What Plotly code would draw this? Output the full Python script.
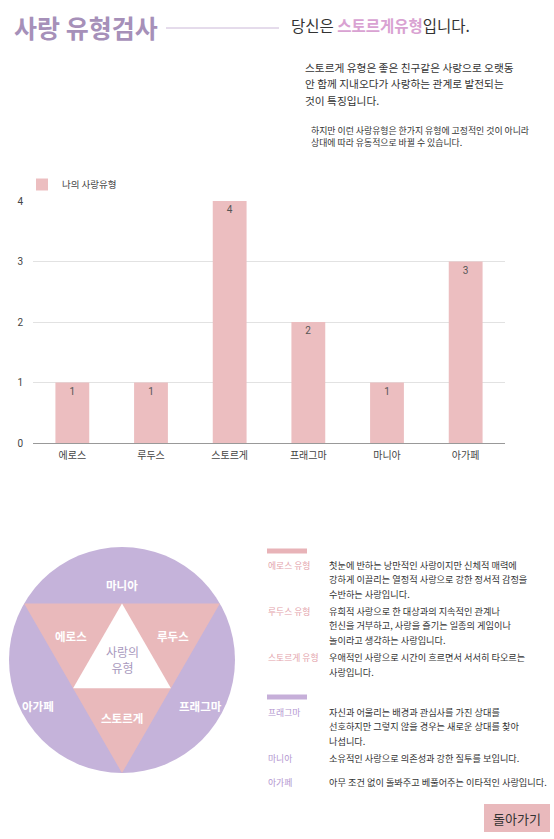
import math
import plotly.graph_objects as go

# ---------------- data ----------------
categories = ["에로스", "루두스", "스토르게", "프래그마", "마니아", "아가페"]
values = [1, 1, 4, 2, 1, 3]
y_ticks = [0, 1, 2, 3, 4]
series_name = "나의 사랑유형"

title_text = "사랑 유형검사"
result_prefix = "당신은 "
result_type = "스토르게유형"
result_suffix = "입니다."
para_lines = ["스토르게 유형은 좋은 친구같은 사랑으로 오랫동",
              "안 함께 지내오다가 사랑하는 관계로 발전되는",
              "것이 특징입니다."]
note_lines = ["하지만 이런 사랑유형은 한가지 유형에 고정적인 것이 아니라",
              "상대에 따라 유동적으로 바뀔 수 있습니다."]

pink_group = [
    ("에로스 유형", ["첫눈에 반하는 낭만적인 사랑이지만 신체적 매력에",
                  "강하게 이끌리는 열정적 사랑으로 강한 정서적 감정을",
                  "수반하는 사랑입니다."]),
    ("루두스 유형", ["유희적 사랑으로 한 대상과의 지속적인 관계나",
                  "헌신을 거부하고, 사랑을 즐기는 일종의 게임이나",
                  "놀이라고 생각하는 사랑입니다."]),
    ("스토르게 유형", ["우애적인 사랑으로 시간이 흐르면서 서서히 타오르는",
                   "사랑입니다."]),
]
purple_group = [
    ("프래그마", ["자신과 어울리는 배경과 관심사를 가진 상대를",
              "선호하지만 그렇지 않을 경우는 새로운 상대를 찾아",
              "나섭니다."]),
    ("마니아", ["소유적인 사랑으로 의존성과 강한 질투를 보입니다."]),
    ("아가페", ["아무 조건 없이 돌봐주고 베풀어주는 이타적인 사랑입니다."]),
]
diagram_center_title = "사랑의<br>유형"
button_text = "돌아가기"

# ---------------- style ----------------
W, H = 554, 839
FONT = "Noto Sans CJK KR"
BAR_COLOR = "#ecbec0"
PURPLE = "#c5b3da"
PINK = "#e9b9bb"
TITLE_COLOR = "#a690b9"


def px(x):
    return x / W


def py(y):
    return 1 - y / H


fig = go.Figure()
fig.add_bar(x=categories, y=values, text=values, name=series_name,
            marker=dict(color=BAR_COLOR, line=dict(width=0)),
            textposition="inside", insidetextanchor="end",
            textfont=dict(size=10, color="#555555", family="Roboto"),
            showlegend=True)

shapes = []
ann = []


def text(x, y, t, size, color, anchor="left", family=FONT, weight="normal"):
    ann.append(dict(x=px(x), y=py(y), xref="paper", yref="paper", text=t,
                    showarrow=False, xanchor=anchor, yanchor="middle",
                    font=dict(size=size, color=color, family=family, weight=weight)))


# title & header
text(12, 27, title_text, 25, TITLE_COLOR, weight="bold")
shapes.append(dict(type="line", xref="paper", yref="paper",
                   x0=px(166), x1=px(279), y0=py(28), y1=py(28),
                   line=dict(color="#cbb8d8", width=1)))
text(289, 25, result_prefix + "<span style='color:#d9a2d2;font-weight:bold'>" + result_type + "</span>" + result_suffix,
     15.5, "#333333")
for i, line in enumerate(para_lines):
    text(303, 67 + i * 16.5, line, 10.7, "#333333")
for i, line in enumerate(note_lines):
    text(309, 130 + i * 13, line, 8.9, "#333333")

# ---------------- diagram ----------------
cx, cy, r = 122, 660, 113
shapes.append(dict(type="circle", xref="paper", yref="paper",
                   x0=px(cx - r), x1=px(cx + r), y0=py(cy + r), y1=py(cy - r),
                   fillcolor=PURPLE, line=dict(width=0), layer="below"))
angles = [90, 210, 330]
tri = [(cx + r * math.cos(math.radians(a)), cy + r * math.sin(math.radians(a))) for a in angles]


def path_of(pts):
    return "M " + " L ".join(f"{px(x):.5f},{py(y):.5f}" for x, y in pts) + " Z"


shapes.append(dict(type="path", xref="paper", yref="paper", path=path_of(tri),
                   fillcolor=PINK, line=dict(width=0), layer="below"))
mid = [((tri[i][0] + tri[(i + 1) % 3][0]) / 2, (tri[i][1] + tri[(i + 1) % 3][1]) / 2) for i in range(3)]
shapes.append(dict(type="path", xref="paper", yref="paper", path=path_of(mid),
                   fillcolor="white", line=dict(width=0), layer="below"))

diagram_labels = [("마니아", 122, 585), ("에로스", 71, 636), ("루두스", 173, 636),
                  ("아가페", 38, 706), ("프래그마", 200, 706), ("스토르게", 122, 718)]
for t, x, y in diagram_labels:
    text(x, y, t, 11.5, "white", anchor="center", weight="bold")
text(122, 659, diagram_center_title, 12, "#a898bd", anchor="center")


# ---------------- right descriptions ----------------
def group(items, bar_color, label_color, bar_y, start_y, gaps):
    shapes.append(dict(type="rect", xref="paper", yref="paper",
                       x0=px(267), x1=px(307), y0=py(bar_y + 2.5), y1=py(bar_y - 2.5),
                       fillcolor=bar_color, line=dict(width=0)))
    y = start_y
    for (label, lines), gap in zip(items, gaps):
        text(266, y, label, 8.8, label_color)
        for j, line in enumerate(lines):
            text(327, y + j * 14.3, line, 9.2, "#333333")
        y += (len(lines) - 1) * 14.3 + gap


group(pink_group, "#e8b3b8", "#e3a3ab", 551, 565, [17.5, 17.5, 0])
group(purple_group, "#c6afd9", "#b396cf", 697, 712, [17.5, 24, 0])

# button
shapes.append(dict(type="rect", xref="paper", yref="paper",
                   x0=px(484), x1=px(550), y0=py(832), y1=py(804),
                   fillcolor="#e9b9bc", line=dict(width=0)))
text(517, 818, button_text, 13, "#333333", anchor="center")

fig.update_layout(
    width=W, height=H, autosize=False,
    margin=dict(l=0, r=0, t=0, b=0, pad=0, autoexpand=False),
    paper_bgcolor="white", plot_bgcolor="white",
    font=dict(family=FONT, color="#555555"),
    bargap=0.57,
    shapes=shapes, annotations=ann,
    legend=dict(x=px(22), y=py(170), xanchor="left", yanchor="top",
                orientation="h", bgcolor="rgba(0,0,0,0)",
                font=dict(size=9.5, color="#444444", family=FONT)),
    xaxis=dict(domain=[px(33), px(505)], showline=True, linecolor="#999999", linewidth=1,
               ticks="", tickfont=dict(size=10, color="#444444", family=FONT),
               ticklabelstandoff=3, fixedrange=True, automargin=False),
    yaxis=dict(domain=[py(443), py(201)], range=[0, 4], tickvals=y_ticks,
               showgrid=True, gridcolor="#e2e2e2", zeroline=False, showline=False,
               ticks="", tickfont=dict(size=10, color="#444444", family="Roboto"),
               ticklabelstandoff=9, fixedrange=True, automargin=False),
)

fig.write_html("out.html", config={"displayModeBar": False},
               post_script="document.body.style.margin='0px';document.body.style.overflow='hidden';")
